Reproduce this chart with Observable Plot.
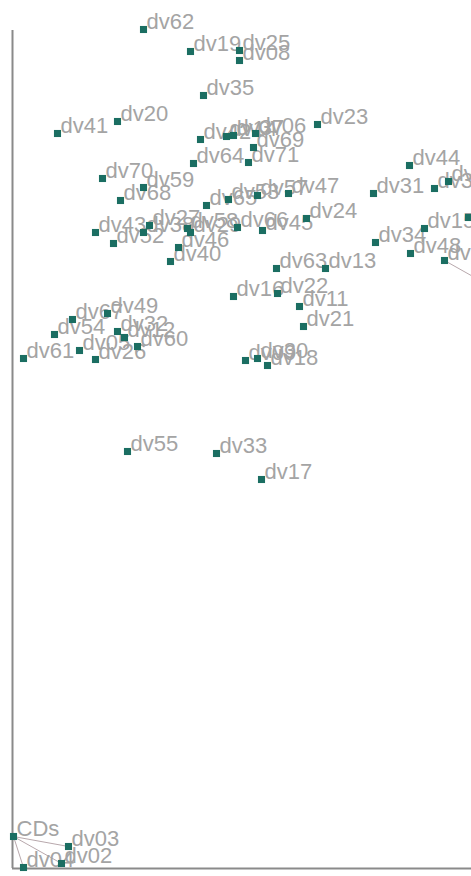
<!DOCTYPE html>
<html>
<head>
<meta charset="utf-8">
<script src="https://cdn.jsdelivr.net/npm/d3@7"></script>
<script src="https://cdn.jsdelivr.net/npm/@observablehq/plot@0.6"></script>
<style>
  html, body { margin: 0; padding: 0; background: #fff; overflow: hidden; }
</style>
</head>
<body>
<div id="chart"></div>
<script>
const labels = ["dv62","dv19","dv25","dv08","dv35","dv41","dv20","dv42","dv14","dv37","dv06","dv69","dv64","dv71","dv23","dv44","dv36","dv50","dv31","dv70","dv59","dv68","dv65","dv53","dv57","dv47","dv24","dv43","dv52","dv27","dv38","dv58","dv29","dv66","dv45","dv46","dv40","dv34","dv15","dv51","dv48","dv56","dv63","dv13","dv16","dv22","dv11","dv21","dv09","dv30","dv18","dv61","dv54","dv67","dv49","dv32","dv12","dv05","dv26","dv60","dv55","dv33","dv17","CDs","dv03","dv02","dv04"];
const xValues = [13.1,17.8,22.7,22.7,19.1,4.5,10.5,18.8,21.4,22.1,24.3,24.1,18.1,23.6,30.5,39.7,42.2,43.6,36.1,9.0,13.1,10.8,19.4,21.6,24.5,27.6,29.4,8.3,10.1,13.7,13.1,17.5,17.8,22.5,25.0,16.6,15.8,36.3,41.2,45.6,39.8,43.2,26.4,31.3,22.1,26.5,28.7,29.1,23.3,24.5,25.5,1.1,4.2,6.0,9.5,10.5,11.2,6.7,8.3,12.5,11.5,20.4,24.9,0.1,5.6,4.9,1.1];
const yValues = [83.9,81.7,81.8,80.8,77.3,73.5,74.7,72.9,73.2,73.3,73.5,72.1,70.5,70.6,74.4,70.3,68.0,68.7,67.5,69.0,68.1,66.8,66.3,66.9,67.3,67.5,65.0,63.6,62.5,64.3,63.6,64.0,63.6,64.1,63.8,62.1,60.7,62.6,64.0,65.1,61.5,60.8,60.0,60.0,57.2,57.5,56.2,54.2,50.8,51.0,50.3,51.0,53.4,54.9,55.5,53.7,53.1,51.8,50.9,52.2,41.7,41.5,38.9,3.2,2.2,0.5,0.1];

// connecting segments
const linkX1 = [0.1, 0.1, 0.1, 43.2];
const linkY1 = [3.2, 3.2, 3.2, 60.8];
const linkX2 = [5.6, 4.9, 1.1, 48.0];
const linkY2 = [2.2, 0.5, 0.1, 58.1];

const points = labels.map((d, i) => ({label: d, x: xValues[i], y: yValues[i]}));
const links = linkX1.map((d, i) => ({x1: d, y1: linkY1[i], x2: linkX2[i], y2: linkY2[i]}));

const chart = Plot.plot({
  width: 471,
  height: 876,
  marginLeft: 12,
  marginRight: 0,
  marginTop: 30,
  marginBottom: 8,
  style: {overflow: "hidden", background: "#fff"},
  x: {domain: [0, 45.9], axis: null},
  y: {domain: [0, 83.8], axis: null},
  marks: [
    Plot.link(links, {x1: "x1", y1: "y1", x2: "x2", y2: "y2", stroke: "#b8a8ac", strokeWidth: 1}),
    Plot.ruleX([0], {stroke: "#8a8a8a", strokeWidth: 2}),
    Plot.ruleY([0], {stroke: "#8a8a8a", strokeWidth: 2}),
    Plot.text(points, {x: "x", y: "y", text: "label", textAnchor: "start", lineAnchor: "bottom", dx: 3, dy: -1, fontSize: 22, fill: "#a4a4a4", fontFamily: "Liberation Sans"}),
    Plot.dot(points, {x: "x", y: "y", symbol: "square", r: 4, fill: "#1b6e62", stroke: "none"})
  ]
});
document.getElementById("chart").appendChild(chart);
</script>
</body>
</html>
